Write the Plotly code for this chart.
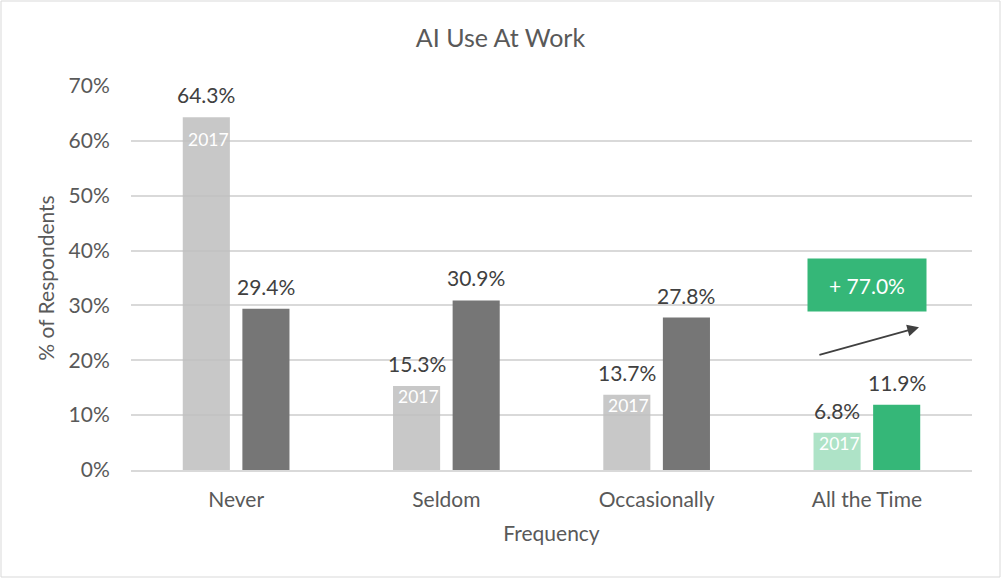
import plotly.graph_objects as go

# Survey data: share of respondents by frequency of AI use at work
categories = ["Never", "Seldom", "Occasionally", "All the Time"]
values_2017 = [64.3, 15.3, 13.7, 6.8]
values_now = [29.4, 30.9, 27.8, 11.9]
change_label = "+ 77.0%"
year_label = "2017"

light_colors = ["rgba(190,190,190,0.85)"] * 3 + ["rgba(160,222,189,0.85)"]
dark_colors = ["#767676"] * 3 + ["#35b778"]

TEXT = "#595959"
FONT = "Lato"

W, H = 1001, 578
ML, MR, MT, MB = 131, 29, 86, 108
BARGAP = 0.433
GROUPGAP = 0.21

fig = go.Figure()
fig.add_trace(go.Bar(x=list(range(4)), y=values_2017, marker=dict(color=light_colors, line_width=0),
                     hoverinfo="skip"))
fig.add_trace(go.Bar(x=list(range(4)), y=values_now, marker=dict(color=dark_colors, line_width=0),
                     hoverinfo="skip"))

# bar centres within each group, derived from the group gap settings
slot = (1 - BARGAP) / 2
offsets = [-slot / 2, slot / 2]

# vertical nudge of the "2017" tag inside each light bar
year_shift = [-10, 2, 2, 2]

ann = []
for i in range(4):
    for off, vals in zip(offsets, (values_2017, values_now)):
        ann.append(dict(x=i + off, y=vals[i], xref="x", yref="y", text=f"{vals[i]:.1f}%",
                        showarrow=False, yanchor="bottom", yshift=8,
                        font=dict(family=FONT, size=21, color="#404040")))
    ann.append(dict(x=i + offsets[0], y=values_2017[i], xref="x", yref="y", text=year_label,
                    showarrow=False, yanchor="top", yshift=year_shift[i], xshift=2,
                    font=dict(family=FONT, size=17.5, color="white")))

# growth badge and arrow for the last category
ann.append(dict(x=3, y=33.7, xref="x", yref="y", text=change_label, showarrow=False,
                bgcolor="#35b778", width=118, height=52, borderpad=0,
                font=dict(family=FONT, size=21, color="white")))
ann.append(dict(x=3.248, y=26.0, ax=2.767, ay=20.9, xref="x", yref="y", axref="x", ayref="y",
                text="", showarrow=True, arrowhead=2, arrowsize=1.3, arrowwidth=1.8,
                arrowcolor="#404040"))

# outer frame around the whole figure
pw = W - ML - MR
ph = H - MT - MB
shapes = [dict(type="rect", xref="paper", yref="paper",
               x0=(-ML + 1) / pw, x1=(W - ML - 1) / pw,
               y0=(-MB + 1) / ph, y1=(H - MB - 1) / ph,
               line=dict(color="#d9d9d9", width=1), fillcolor="rgba(0,0,0,0)", layer="below")]

fig.update_layout(
    width=W, height=H,
    margin=dict(l=ML, r=MR, t=MT, b=MB),
    paper_bgcolor="white", plot_bgcolor="white",
    barmode="group", bargap=BARGAP, bargroupgap=GROUPGAP,
    showlegend=False,
    font=dict(family=FONT, color=TEXT),
    title=dict(text="AI Use At Work", x=0.5, xref="container", xanchor="center",
               y=1 - 38 / H, yanchor="middle",
               font=dict(family=FONT, size=25, color=TEXT)),
    annotations=ann,
    shapes=shapes,
    xaxis=dict(tickvals=list(range(4)), ticktext=categories, range=[-0.5, 3.5],
               showgrid=False, showline=True, linecolor="#d9d9d9", linewidth=2,
               ticks="outside", ticklen=10, tickcolor="rgba(0,0,0,0)",
               tickfont=dict(family=FONT, size=21, color=TEXT),
               title=dict(text="Frequency", standoff=16, font=dict(family=FONT, size=21, color=TEXT)),
               zeroline=False),
    yaxis=dict(range=[0, 70], dtick=10, ticksuffix="%", showgrid=True, gridcolor="#d9d9d9",
               gridwidth=1.5, zeroline=False, showline=False,
               ticks="outside", ticklen=16, tickcolor="rgba(0,0,0,0)",
               tickfont=dict(family=FONT, size=21, color=TEXT),
               title=dict(text="% of Respondents", standoff=8,
                          font=dict(family=FONT, size=21, color=TEXT))),
)

fig.write_html("out.html")
